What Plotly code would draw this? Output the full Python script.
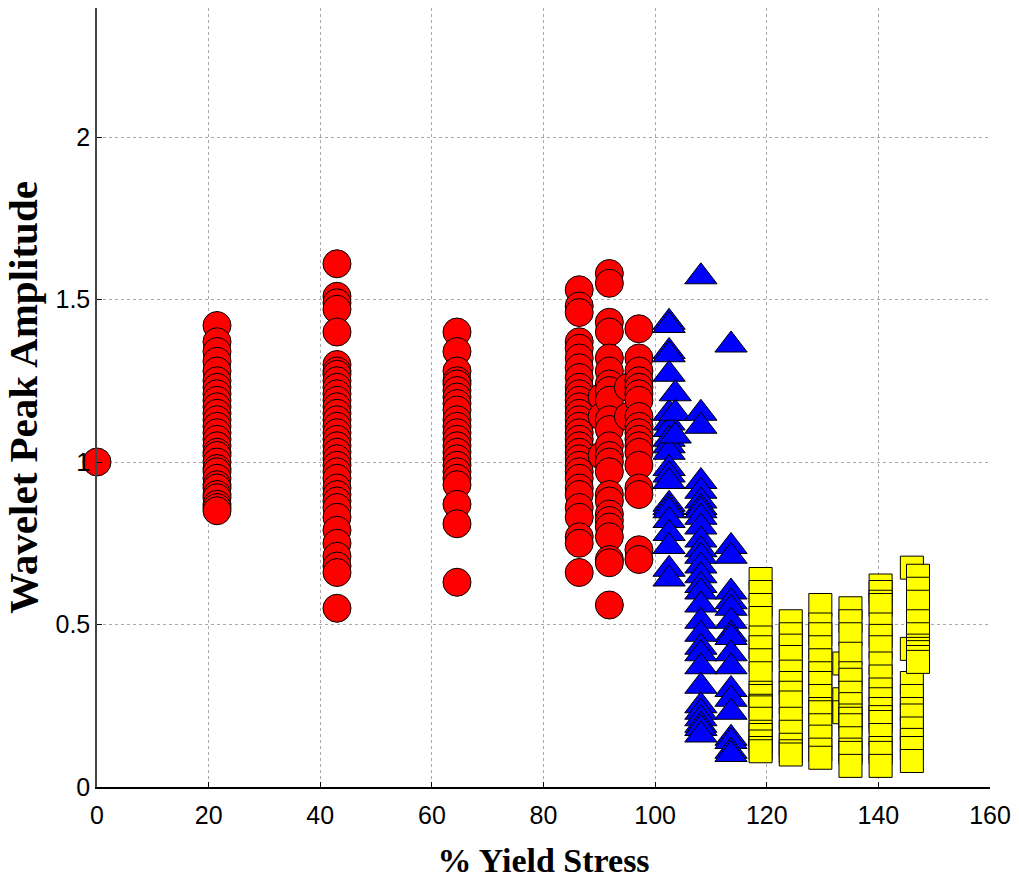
import plotly.graph_objects as go

# ---------------- data ----------------
# Red circles: one list of y values per x column
red_col_x = [0.0, 21.5, 43.0, 64.5, 86.4, 90.5, 91.8, 95.2, 97.1]
red_y_0 = [1.00]
red_y_21 = [1.42, 1.37, 1.34, 1.31, 1.28, 1.25, 1.23, 1.21, 1.19, 1.17, 1.15, 1.13,
            1.11, 1.09, 1.07, 1.05, 1.03, 1.02, 1.00, 0.98, 0.97, 0.95, 0.93, 0.92,
            0.90, 0.89, 0.87, 0.86, 0.85]
red_y_43 = [1.61, 1.51, 1.49, 1.47, 1.40, 1.30, 1.28, 1.27, 1.25, 1.23, 1.21, 1.19,
            1.17, 1.15, 1.13, 1.11, 1.09, 1.07, 1.05, 1.03, 1.01, 0.99, 0.97, 0.95,
            0.92, 0.90, 0.88, 0.86, 0.83, 0.79, 0.75, 0.71, 0.68, 0.66, 0.55]
red_y_64 = [1.40, 1.34, 1.28, 1.25, 1.24, 1.22, 1.20, 1.18, 1.16, 1.13, 1.11, 1.09,
            1.07, 1.05, 1.03, 1.01, 0.99, 0.97, 0.95, 0.93, 0.87, 0.81, 0.63]
red_y_86 = [1.53, 1.48, 1.46, 1.37, 1.35, 1.32, 1.29, 1.26, 1.23, 1.21, 1.19, 1.17,
            1.15, 1.13, 1.11, 1.09, 1.07, 1.05, 1.03, 1.01, 0.99, 0.97, 0.95, 0.92,
            0.90, 0.86, 0.83, 0.77, 0.75, 0.66]
red_y_90 = [1.20, 1.14, 1.02]
red_y_91 = [1.58, 1.55, 1.43, 1.40, 1.32, 1.28, 1.24, 1.22, 1.19, 1.13, 1.10, 1.05,
            1.02, 1.00, 0.97, 0.90, 0.88, 0.84, 0.82, 0.80, 0.77, 0.70, 0.69, 0.56]
red_y_95 = [1.23, 1.14]
red_y_97 = [1.41, 1.32, 1.28, 1.25, 1.23, 1.21, 1.19, 1.14, 1.11, 1.09, 1.07, 1.05,
            1.03, 0.99, 0.92, 0.90, 0.73, 0.70]

# Blue triangles
blue_col_x = [102.5, 103.6, 108.2, 113.6]
blue_y_102 = [1.43, 1.42, 1.34, 1.33, 1.27, 1.15, 1.12, 1.10, 1.07, 1.05, 1.03, 0.98,
              0.96, 0.94, 0.87, 0.86, 0.85, 0.82, 0.78, 0.74, 0.67, 0.64]
blue_y_103 = [1.21, 1.15, 1.08]
blue_y_108 = [1.57, 1.15, 1.11, 0.94, 0.91, 0.88, 0.86, 0.85, 0.83, 0.80, 0.76, 0.73,
              0.71, 0.68, 0.65, 0.62, 0.60, 0.56, 0.51, 0.47, 0.43, 0.41, 0.37, 0.31,
              0.25, 0.23, 0.21, 0.19, 0.18, 0.16]
blue_y_113 = [1.36, 0.74, 0.71, 0.60, 0.57, 0.55, 0.51, 0.47, 0.46, 0.41, 0.37, 0.30,
              0.27, 0.23, 0.15, 0.14, 0.11, 0.10]

# Yellow squares
yellow_col_x = [118.9, 124.3, 129.6, 133.9, 135.0, 140.4, 146.0, 147.1]
yellow_y_119 = [0.64, 0.60, 0.56, 0.52, 0.46, 0.43, 0.39, 0.35, 0.29, 0.28, 0.25,
                0.245, 0.21, 0.17, 0.16, 0.14, 0.12, 0.11]
yellow_y_124 = [0.51, 0.47, 0.435, 0.40, 0.355, 0.32, 0.29, 0.26, 0.21, 0.17, 0.13,
                0.11, 0.10]
yellow_y_130 = [0.56, 0.50, 0.47, 0.43, 0.39, 0.35, 0.32, 0.28, 0.24, 0.23, 0.19,
                0.155, 0.115, 0.09]
yellow_y_134 = [0.38, 0.27, 0.23]
yellow_y_135 = [0.55, 0.51, 0.47, 0.41, 0.35, 0.33, 0.29, 0.255, 0.22, 0.21, 0.19,
                0.15, 0.115, 0.105, 0.065]
yellow_y_140 = [0.62, 0.60, 0.57, 0.56, 0.50, 0.465, 0.43, 0.38, 0.34, 0.30, 0.27,
                0.24, 0.215, 0.20, 0.16, 0.12, 0.105, 0.065]
yellow_y_146 = [0.675, 0.425, 0.32, 0.28, 0.24, 0.22, 0.18, 0.145, 0.12, 0.08]
yellow_y_147 = [0.65, 0.61, 0.57, 0.51, 0.47, 0.435, 0.425, 0.415, 0.40, 0.385]

x_ticks = [0, 20, 40, 60, 80, 100, 120, 140, 160]
y_ticks = [0, 0.5, 1, 1.5, 2]
y_tick_labels = ["0", "0.5", "1", "1.5", "2"]
x_title = "% Yield Stress"
y_title = "Wavelet Peak Amplitude"

# ---------------- build ----------------
def expand(cols, ys):
    xs, yy = [], []
    for cx, col in zip(cols, ys):
        xs += [cx] * len(col)
        yy += list(col)
    return xs, yy

rx, ry = expand(red_col_x, [red_y_0, red_y_21, red_y_43, red_y_64, red_y_86,
                            red_y_90, red_y_91, red_y_95, red_y_97])
bx, by = expand(blue_col_x, [blue_y_102, blue_y_103, blue_y_108, blue_y_113])
yx, yy = expand(yellow_col_x, [yellow_y_119, yellow_y_124, yellow_y_130, yellow_y_134,
                               yellow_y_135, yellow_y_140, yellow_y_146, yellow_y_147])

fig = go.Figure()
fig.add_trace(go.Scatter(x=rx, y=ry, mode="markers", cliponaxis=False,
                         marker=dict(symbol="circle", size=28, color="#ff0000",
                                     line=dict(color="black", width=1))))
fig.add_trace(go.Scatter(x=bx, y=by, mode="markers", cliponaxis=False,
                         marker=dict(symbol="triangle-up", size=28, color="#0000ff",
                                     line=dict(color="black", width=1))))
fig.add_trace(go.Scatter(x=yx, y=yy, mode="markers", cliponaxis=False,
                         marker=dict(symbol="square", size=23, color="#ffff00",
                                     line=dict(color="black", width=1))))

fig.update_layout(
    width=1019, height=884,
    margin=dict(l=97, r=24, t=8, b=97),
    paper_bgcolor="white", plot_bgcolor="white",
    showlegend=False,
    font=dict(family="Liberation Sans, Arial, sans-serif", color="black"),
    xaxis=dict(
        range=[0, 160], tickvals=x_ticks, ticks="inside", ticklen=5,
        tickcolor="black", showline=True, linecolor="black", linewidth=1.5,
        showgrid=True, gridcolor="#a8a8a8", griddash="dot", gridwidth=1,
        zeroline=False, tickfont=dict(size=25, family="Liberation Sans"),
        ticklabelstandoff=5,
        title=dict(text="<b>" + x_title + "</b>", standoff=20,
                   font=dict(size=34, family="Liberation Serif, Times New Roman, serif")),
    ),
    yaxis=dict(
        range=[0, 2.397], tickvals=y_ticks, ticktext=y_tick_labels, ticks="inside",
        ticklen=5, tickcolor="black", showline=True, linecolor="#444444", linewidth=1.5,
        showgrid=True, gridcolor="#a8a8a8", griddash="dot", gridwidth=1,
        zeroline=False, tickfont=dict(size=25, family="Liberation Sans"),
        title=dict(text="<b>" + y_title + "</b>", standoff=12,
                   font=dict(size=41, family="Liberation Serif, Times New Roman, serif")),
    ),
)

fig.write_html("out.html")
